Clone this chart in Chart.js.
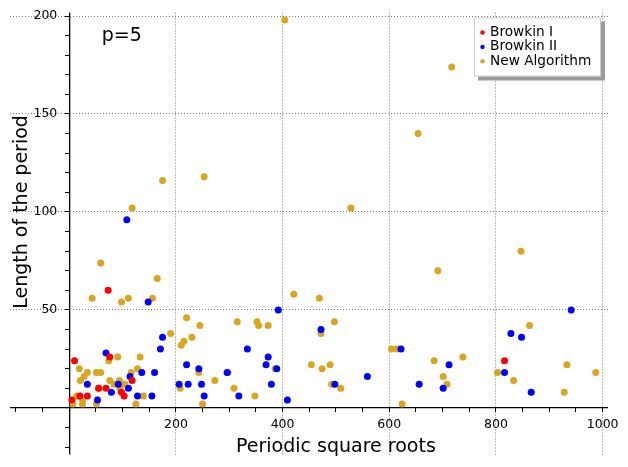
<!DOCTYPE html>
<html>
<head>
<meta charset="UTF-8">
<title>p=5</title>
<script src="https://cdn.jsdelivr.net/npm/chart.js"></script>
<style>
  body { margin: 0; background: #fff; }
  canvas { display: block; }
</style>
</head>
<body>
<canvas id="chart" width="628" height="467"></canvas>
<script>
// [periodic square root, length of the period]
const browkin1 = [
  [5, 4], [10, 24], [20, 6], [34, 6], [55, 10], [69, 10], [73, 60], [76, 26],
  [98, 8], [103, 6], [118, 14], [816, 24]
];
const browkin2 = [
  [34, 12], [53, 4], [69, 28], [79, 8], [92, 12], [111, 10], [114, 16], [128, 6],
  [136, 18], [108, 96], [148, 54], [155, 6], [160, 18], [171, 30], [175, 36], [206, 12],
  [220, 22], [223, 12], [243, 20], [248, 12], [253, 6], [296, 18], [318, 6], [334, 30],
  [369, 22], [373, 26], [379, 12], [389, 20], [392, 50], [409, 4], [472, 40], [498, 12],
  [559, 16], [622, 30], [656, 12], [701, 10], [712, 22], [816, 18], [828, 38], [848, 36],
  [866, 8], [941, 50]
];
const newAlgorithm = [
  [7, 2], [14, 6], [19, 20], [21, 14], [25, 2], [25, 4], [28, 16], [34, 18],
  [43, 56], [51, 2], [51, 18], [56, 10], [59, 18], [59, 74], [74, 24], [76, 14],
  [84, 12], [91, 26], [94, 14], [95, 10], [98, 54], [104, 12], [111, 56], [116, 18],
  [118, 102], [125, 2], [128, 20], [133, 26], [139, 6], [156, 56], [165, 66], [175, 116],
  [190, 38], [208, 10], [210, 32], [215, 34], [220, 46], [230, 36], [243, 18], [245, 42],
  [250, 2], [253, 118], [273, 14], [298, 18], [309, 10], [315, 44], [348, 6], [352, 44],
  [355, 42], [373, 42], [386, 20], [404, 198], [421, 58], [454, 22], [469, 56], [472, 38],
  [474, 20], [489, 22], [492, 12], [497, 44], [509, 10], [528, 102], [604, 30], [614, 30],
  [624, 2], [654, 140], [684, 24], [691, 70], [701, 16], [708, 12], [717, 174], [738, 26],
  [803, 18], [833, 14], [847, 80], [863, 42], [928, 8], [933, 22], [987, 18]
];

const seriesNames = ['Browkin I', 'Browkin II', 'New Algorithm'];
const seriesColors = ['#ff0000', '#0000ff', '#daa520'];

const xTicks = [-100, -50, 0, 50, 100, 150, 200, 250, 300, 350, 400, 450, 500,
  550, 600, 650, 700, 750, 800, 850, 900, 950, 1000];
const xLabels = [200, 400, 600, 800, 1000];
const yTicks = [-20, -10, 0, 10, 20, 30, 40, 50, 60, 70, 80, 90, 100, 110, 120,
  130, 140, 150, 160, 170, 180, 190, 200];
const yLabels = [50, 100, 150, 200];

const xTitle = 'Periodic square roots';
const yTitle = 'Length of the period';
const note = 'p=5';

const FONT = '"DejaVu Sans", sans-serif';

function toPoints(list) {
  return list.map(p => ({x: p[0], y: p[1]}));
}

function gridColor(labels) {
  return ctx => {
    const v = ctx.tick ? ctx.tick.value : null;
    if (v === 0) return '#000';
    if (labels.includes(v)) return '#666';
    return 'rgba(0,0,0,0)';
  };
}

const gridDash = ctx => (ctx.tick && ctx.tick.value !== 0) ? [1, 2] : [];
const gridWidth = ctx => (ctx.tick && ctx.tick.value === 0) ? 1.3 : 0.9;

// axis titles, the p=5 note and the boxed legend
const extras = {
  id: 'extras',
  afterDraw(chart) {
    const {ctx, chartArea, scales: {x, y}} = chart;
    ctx.save();
    ctx.fillStyle = '#000';
    ctx.font = '19px ' + FONT;
    ctx.textBaseline = 'alphabetic';

    ctx.textAlign = 'center';
    ctx.fillText(xTitle, x.getPixelForValue(500), 452);

    ctx.save();
    ctx.translate(27, y.getPixelForValue(100));
    ctx.rotate(-Math.PI / 2);
    ctx.fillText(yTitle, 0, 0);
    ctx.restore();

    ctx.textAlign = 'left';
    ctx.fillText(note, x.getPixelForValue(61), y.getPixelForValue(187));

    // legend
    const bw = 127, bh = 59;
    const bx = chartArea.right - 7 - bw, by = chartArea.top + 5;
    ctx.fillStyle = '#9a9a9a';
    ctx.fillRect(bx + 4, by + 4, bw, bh);
    ctx.fillStyle = '#fff';
    ctx.fillRect(bx, by, bw, bh);
    ctx.strokeStyle = '#cccccc';
    ctx.lineWidth = 1;
    ctx.strokeRect(bx + 0.5, by + 0.5, bw - 1, bh - 1);

    ctx.font = '13.7px ' + FONT;
    ctx.textBaseline = 'middle';
    chart.data.datasets.forEach((ds, i) => {
      const cy = by + 15 + i * 14.4;
      ctx.fillStyle = ds.backgroundColor;
      ctx.beginPath();
      ctx.arc(bx + 8.5, cy, 2.2, 0, Math.PI * 2);
      ctx.fill();
      ctx.fillStyle = '#000';
      ctx.fillText(ds.label, bx + 16, cy);
    });
    ctx.restore();
  }
};

const datasets = [browkin1, browkin2, newAlgorithm].map((list, i) => ({
  label: seriesNames[i],
  data: toPoints(list),
  backgroundColor: seriesColors[i],
  borderColor: seriesColors[i],
  borderWidth: 0,
  pointRadius: 3.5,
  pointHoverRadius: 3.5
}));

new Chart(document.getElementById('chart'), {
  type: 'scatter',
  data: {datasets: datasets},
  options: {
    responsive: false,
    animation: false,
    layout: {padding: {left: 10, right: 20, top: 12, bottom: 12}},
    plugins: {
      legend: {display: false},
      tooltip: {enabled: false}
    },
    scales: {
      x: {
        type: 'linear',
        min: -111,
        max: 1010,
        position: {y: 0},
        afterFit: s => { s.height = 0; },
        afterBuildTicks: s => { s.ticks = xTicks.map(v => ({value: v})); },
        ticks: {
          autoSkip: false,
          maxRotation: 0,
          padding: 5,
          color: '#000',
          font: {family: FONT, size: 12.5},
          callback: v => xLabels.includes(v) ? String(v) : ''
        },
        grid: {
          color: gridColor(xLabels),
          lineWidth: gridWidth,
          tickLength: 4,
          tickColor: '#000',
          tickWidth: 1
        },
        border: {display: false, dash: gridDash}
      },
      y: {
        type: 'linear',
        min: -23.8,
        max: 201.8,
        position: {x: 0},
        afterFit: s => { s.width = 0; },
        afterBuildTicks: s => { s.ticks = yTicks.map(v => ({value: v})); },
        ticks: {
          autoSkip: false,
          padding: 5,
          color: '#000',
          font: {family: FONT, size: 12.5},
          // the label sits on the axis when it is placed by value, so pad it by hand
          callback: v => yLabels.includes(v) ? String(v) + '   ' : ''
        },
        grid: {
          color: gridColor(yLabels),
          lineWidth: gridWidth,
          tickLength: 4,
          tickColor: '#000',
          tickWidth: 1
        },
        border: {display: false, dash: gridDash}
      }
    }
  },
  plugins: [extras]
});
</script>
</body>
</html>
